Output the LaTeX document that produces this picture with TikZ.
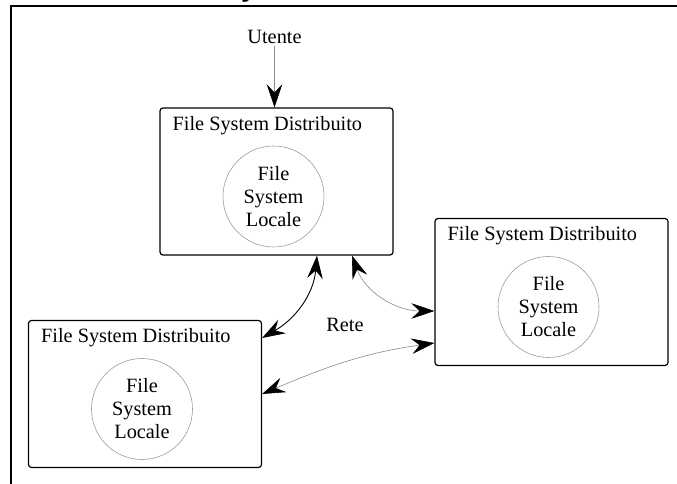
\documentclass[tikz,border=0pt]{standalone}
\usepackage{fontspec}
\setmainfont{Liberation Serif}
\newfontfamily\headfont{Liberation Sans}
\usepackage{tikz}
\usetikzlibrary{positioning,arrows.meta}
\definecolor{linkgray}{HTML}{8A8A8A}
\definecolor{localgray}{HTML}{9C9C9C}
\tikzset{
  fsbox/.style={draw, rounded corners=3pt, line width=1.2pt, minimum width=233pt, minimum height=147pt},
  fstitle/.style={inner sep=0pt, anchor=base west},
  fslocal/.style={draw=localgray, circle, line width=0.6pt, minimum size=101pt, inner sep=0pt, align=center},
  link/.style={<->, >={Stealth[length=23pt, width=15.5pt, inset=8pt, color=black]}, line width=0.9pt},
  netlink/.style={link, draw=linkgray, line width=0.6pt}
}

\begin{document}
\begin{tikzpicture}[x=1pt, y=1pt, font=\fontsize{20.3}{23}\selectfont]
  \useasboundingbox (0,0) rectangle (677,484);
  \clip (0,0) rectangle (677,484);
  \draw[line width=2pt] (11,0) -- (11,478) -- (677,478);
  \node[font=\headfont\bfseries\fontsize{28}{30}\selectfont, anchor=base] (head) at (249,487) {y};

  \node[fsbox] (dfs1) at (276.5,302.5) {};
  \node[fsbox] (dfs2) at (145,90) {};
  \node[fsbox] (dfs3) at (551.5,192) {};
  \foreach \n in {1,2,3} {
    \node[fstitle] (title\n) at ([xshift=13pt, yshift=-23pt]dfs\n.north west) {File System Distribuito};
    \node[fslocal] (lfs\n) at ([xshift=-3pt, yshift=-15pt]dfs\n.center) {File\\System\\Locale};
  }

  \node[inner sep=2pt] (user) at (274.5,447) {Utente};
  \node (net) at (345,159) {Rete};

  \draw[netlink, <-] (dfs1.north -| user) -- (user);
  \draw[link] ([xshift=40.5pt]dfs1.south) to[out=-95, in=30] ([yshift=56pt]dfs2.east);
  \draw[netlink] ([xshift=75.5pt]dfs1.south) to[out=-70, in=180] ([yshift=-19pt]dfs3.west);
  \draw[netlink] (dfs2.east) to[out=23, in=188] ([yshift=-51pt]dfs3.west);
\end{tikzpicture}
\end{document}
